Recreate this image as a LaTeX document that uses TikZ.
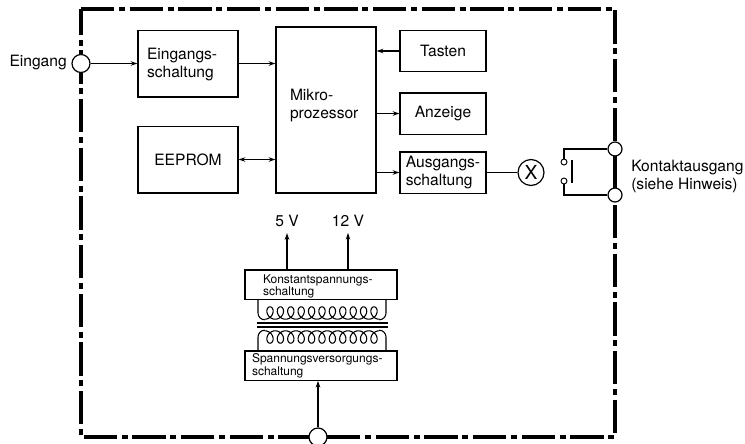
\documentclass[tikz,border=0pt]{standalone}
\usepackage{fontspec}
\setmainfont{TeX Gyre Heros}
\usetikzlibrary{calc,arrows.meta}

\tikzset{
  blockbox/.style={draw, line width=1pt, fill=white, align=left, inner ysep=0pt, font=\fontsize{11.7pt}{13.5pt}\selectfont},
  smallbox/.style={blockbox, font=\fontsize{9pt}{8.3pt}\selectfont},
  port/.style={draw, line width=0.9pt, fill=white, circle, inner sep=0pt},
  signal/.style={->, line width=0.8pt},
  wire/.style={line width=0.8pt},
  plainlabel/.style={inner sep=0pt, align=left, font=\fontsize{11.7pt}{13.5pt}\selectfont},
}

% Wicklung: Mittellage, Richtung (1 = Schleifen oben, -1 = Schleifen unten)
\newcommand{\coilturns}[2]{%
  \draw[wire] plot[smooth, domain=0:3960, samples=265]
    ({264.8+\x/360*10.4+5.5*sin(\x)}, {#1+(#2)*6.2*cos(\x)});
  \draw[wire] (258,{#1-(#2)*14}) -- (258,#1) arc[start angle=180, delta angle={-(#2)*90}, radius=6.8];
  \draw[wire] (386,{#1-(#2)*14}) -- (386,#1) arc[start angle=0, delta angle={(#2)*90}, radius=6.8];
}

\begin{document}
\begin{tikzpicture}[>={Stealth[length=5pt,width=3.4pt]}, x=0.75pt, y=-0.75pt, line join=miter]
  \useasboundingbox (0,0) rectangle (745,443);

  % ===== Gehaeuse =====
  \draw[line width=2.8pt, dash pattern=on 25pt off 3.5pt on 4.5pt off 3.5pt]
    (81,9) -- (615,9) -- (615,437) -- (81,437) -- cycle;

  % ===== Bloecke =====
  \node[blockbox, inner xsep=6.75pt, text width=61.5pt, text depth=13.9pt, minimum height=50pt] (eingschalt) at (188,63.5) {Eingangs-\\schaltung};
  \node[blockbox, inner xsep=10.5pt, text width=54pt, text depth=22.7pt, minimum height=124.5pt] (mikro) at (326,110) {Mikro-\\prozessor};
  \node[blockbox, align=center, minimum width=75pt, minimum height=50pt] (eeprom) at (188,159.5) {EEPROM};
  \node[blockbox, align=center, minimum width=64.5pt, minimum height=31pt] (tasten) at (443,51) {Tasten};
  \node[blockbox, align=center, minimum width=64.5pt, minimum height=31pt] (anzeige) at (443,113.5) {Anzeige};
  \node[blockbox, minimum width=64.5pt, minimum height=31pt] (ausgschalt) at (443,172.5) {Ausgangs-\\schaltung};
  \node[smallbox, inner xsep=13.5pt, text width=87pt, text depth=8.7pt, minimum height=22pt] (konstant) at (321,284.5) {Konstantspannungs-\\schaltung};
  \node[smallbox, inner xsep=5.25pt, text width=103.5pt, minimum height=22pt] (versorgung) at (321,365.5) {Spannungsversorgungs-\\schaltung};

  % ===== Anschluesse =====
  \node[port, minimum size=13.5pt] (eingport) at (81,63.5) {};
  \node[port, minimum size=13.5pt] (netzport) at (318,437) {};
  \node[port, minimum size=10.5pt] (kontaktoben) at (615,149) {};
  \node[port, minimum size=10.5pt] (kontaktunten) at (615,195) {};
  \node[port, minimum size=19.5pt, font=\fontsize{14.5pt}{15pt}\selectfont] (relais) at (531,172.5) {X};
  \node[port, line width=0.7pt, minimum size=4.5pt] (poleins) at (564,162) {};
  \node[port, line width=0.7pt, minimum size=4.5pt] (polzwei) at (564,181) {};

  % ===== Beschriftung =====
  \node[plainlabel, anchor=east] (eingang) at (67,63) {Eingang};
  \node[plainlabel, anchor=west] (kontakt) at (631,176.5) {Kontaktausgang\\(siehe Hinweis)};
  \node[plainlabel, inner sep=4.5pt] (fuenf) at (287,221) {5 V};
  \node[plainlabel, inner sep=4.5pt] (zwoelf) at (348,221) {12 V};

  % ===== Signale =====
  \draw[signal] (eingport) -- (eingschalt);
  \draw[signal] (eingschalt) -- (mikro.west |- eingschalt);
  \draw[signal] (tasten) -- (mikro.east |- tasten);
  \draw[signal] (mikro.east |- anzeige) -- (anzeige);
  \draw[signal] (mikro.east |- ausgschalt) -- (ausgschalt);
  \draw[signal, <->] (eeprom) -- (mikro.west |- eeprom);
  \draw[wire] (ausgschalt) -- (relais);
  \draw[signal] (konstant.north -| fuenf) -- (fuenf);
  \draw[signal] (konstant.north -| zwoelf) -- (zwoelf);
  \draw[signal] (netzport) -- (versorgung.south -| netzport);

  % ===== Kontakt =====
  \draw[wire] (kontaktoben.west) -- (kontaktoben.west -| poleins) -- (poleins);
  \draw[wire] (kontaktunten.west) -- (kontaktunten.west -| polzwei) -- (polzwei);
  \draw[line width=1.3pt] (572,160) -- (572,183);

  % ===== Trafo =====
  \coilturns{313}{1}
  \coilturns{337}{-1}
  \draw[wire] (257,323) -- (388,323);
  \draw[wire] (257,327) -- (388,327);
\end{tikzpicture}
\end{document}
